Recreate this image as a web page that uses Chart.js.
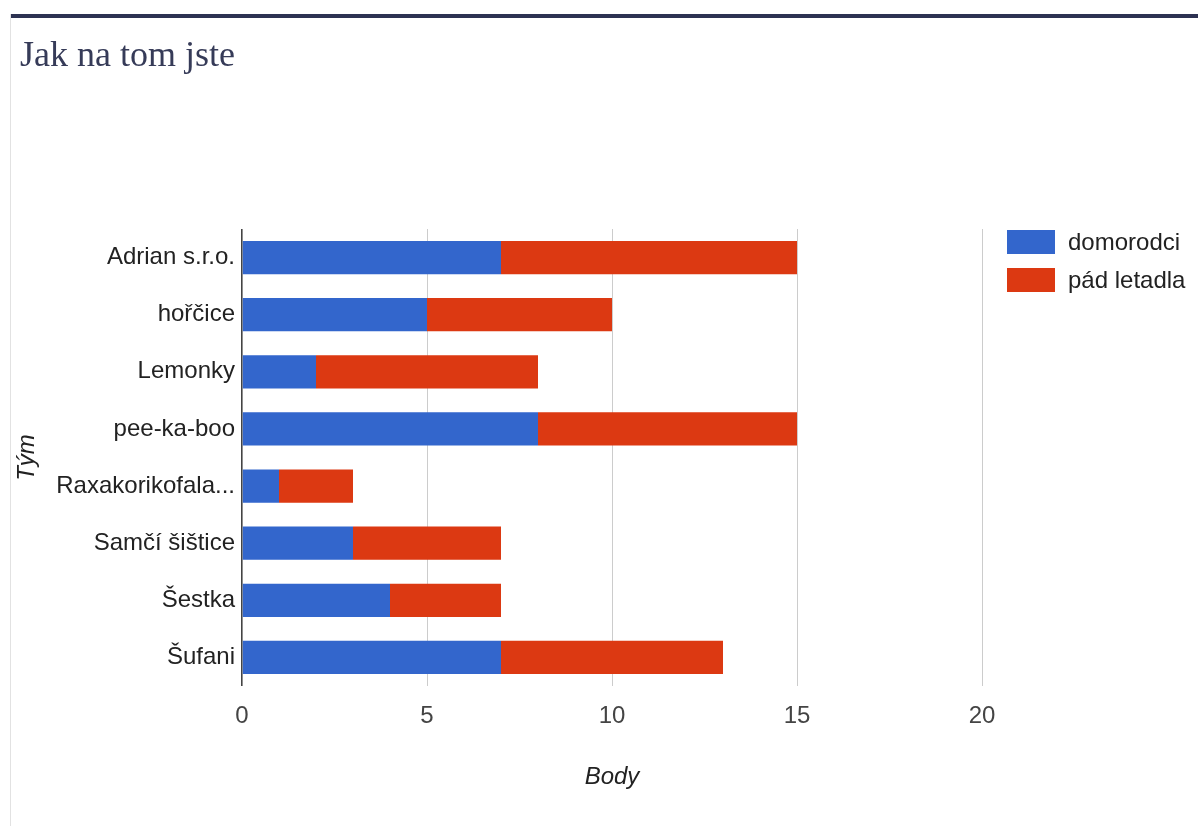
<!DOCTYPE html>
<html>
<head>
<meta charset="utf-8">
<script src="https://cdn.jsdelivr.net/npm/chart.js@4.4.1/dist/chart.umd.min.js"></script>
<style>
  html, body { margin: 0; padding: 0; background: #fff; overflow: hidden; }
  #wrap { position: relative; width: 1198px; height: 826px; }
  canvas { position: absolute; left: 0; top: 0; }
  .topline { position: absolute; left: 10px; top: 14px; width: 1188px; height: 4px; background: #2d3252; }
  .leftline { position: absolute; left: 10px; top: 14px; width: 1px; height: 812px; background: #e2e2e2; }
  .title { position: absolute; left: 20px; top: 36px; font-family: "Liberation Serif", "Times New Roman", serif;
           font-size: 36px; line-height: 36px; color: #363b58; white-space: nowrap; }
  .leg { position: absolute; left: 1007px; height: 24px; font-family: Arial, "Liberation Sans", sans-serif;
         font-size: 24px; color: #222; white-space: nowrap; }
  .leg span.box { position: absolute; left: 0; top: 0; width: 48px; height: 24px; }
  .leg span.txt { position: absolute; left: 61px; top: -2px; line-height: 28px; }
</style>
</head>
<body>
<div id="wrap">
  <canvas id="c" width="1198" height="826"></canvas>
  <div class="topline"></div>
  <div class="leftline"></div>
  <div class="title">Jak na tom jste</div>
  <div id="legend"></div>
</div>
<script>
const categories = ["Adrian s.r.o.", "hořčice", "Lemonky", "pee-ka-boo", "Raxakorikofala...", "Samčí šištice", "Šestka", "Šufani"];
const seriesNames = ["domorodci", "pád letadla"];
const domorodci = [7, 5, 2, 8, 1, 3, 4, 7];
const padLetadla = [8, 5, 6, 7, 2, 4, 3, 6];
const xTicks = [0, 5, 10, 15, 20];
const colors = ["#3366cc", "#dc3912"];

const FONT = 'Arial, "Liberation Sans", sans-serif';

// HTML legend
const legend = document.getElementById('legend');
seriesNames.forEach((name, i) => {
  const d = document.createElement('div');
  d.className = 'leg';
  d.style.top = (230 + i * 38) + 'px';
  d.innerHTML = '<span class="box" style="background:' + colors[i] + '"></span><span class="txt">' + name + '</span>';
  legend.appendChild(d);
});

new Chart(document.getElementById('c'), {
  type: 'bar',
  data: {
    labels: categories,
    datasets: [
      { label: seriesNames[0], data: domorodci, backgroundColor: colors[0], borderWidth: 0,
        barPercentage: 0.58, categoryPercentage: 1.0 },
      { label: seriesNames[1], data: padLetadla, backgroundColor: colors[1], borderWidth: 0,
        barPercentage: 0.58, categoryPercentage: 1.0 }
    ]
  },
  options: {
    indexAxis: 'y',
    responsive: false,
    animation: false,
    devicePixelRatio: 1,
    layout: { padding: { left: 0, right: 216, top: 229, bottom: 0 } },
    plugins: {
      legend: { display: false },
      tooltip: { enabled: false },
      title: { display: false }
    },
    scales: {
      x: {
        stacked: true,
        min: 0,
        max: 20,
        afterBuildTicks: (scale) => { scale.ticks = xTicks.map(v => ({ value: v })); },
        afterFit: (scale) => { scale.height = 140; },
        grid: {
          drawTicks: false,
          color: (ctx) => (ctx.tick && ctx.tick.value === 0) ? '#444' : '#cccccc',
          lineWidth: (ctx) => (ctx.tick && ctx.tick.value === 0) ? 1.6 : 1
        },
        border: { display: false },
        ticks: { padding: 16, color: '#444', font: { family: FONT, size: 24 } },
        title: {
          display: true, text: 'Body', color: '#222',
          font: { family: FONT, size: 24, style: 'italic' },
          padding: { top: 0, bottom: 34 }
        }
      },
      y: {
        stacked: true,
        afterFit: (scale) => { scale.width = 242; },
        grid: { display: false, drawTicks: false },
        border: { display: false },
        ticks: { padding: 7, color: '#222', font: { family: FONT, size: 24 } },
        title: {
          display: true, text: 'Tým', color: '#222',
          font: { family: FONT, size: 24, style: 'italic' },
          padding: { top: 13, bottom: 0 }
        }
      }
    }
  }
});
</script>
</body>
</html>
